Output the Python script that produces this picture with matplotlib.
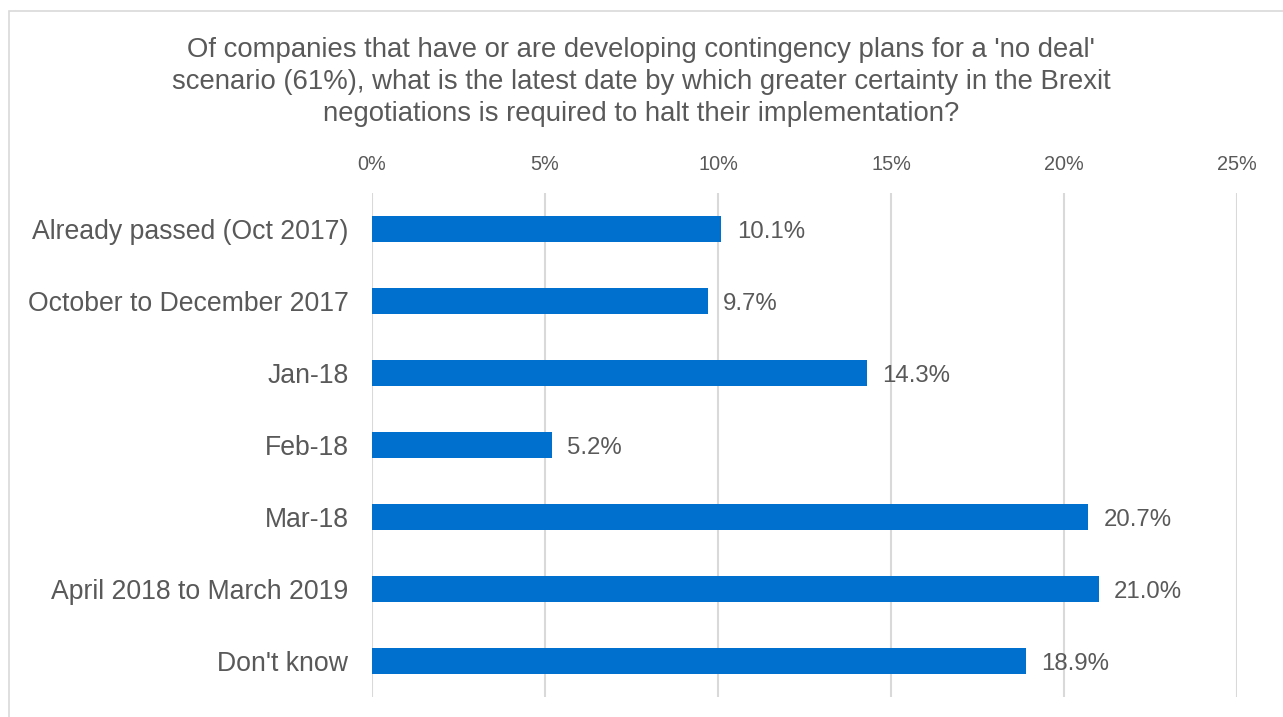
import matplotlib
matplotlib.use("Agg")
import matplotlib.pyplot as plt
from matplotlib.patches import Rectangle
from matplotlib.ticker import FuncFormatter

plt.rcParams["font.family"] = ["Liberation Sans", "DejaVu Sans"]

# survey answers, top to bottom
categories = [
    "Already passed (Oct 2017)",
    "October to December 2017",
    "Jan-18",
    "Feb-18",
    "Mar-18",
    "April 2018 to March 2019",
    "Don't know",
]
shares = [10.1, 9.7, 14.3, 5.2, 20.7, 21.0, 18.9]
x_ticks = [0, 5, 10, 15, 20, 25]

title = ("Of companies that have or are developing contingency plans for a 'no deal'\n"
         "scenario (61%), what is the latest date by which greater certainty in the Brexit\n"
         "negotiations is required to halt their implementation?")

TEXT = "#595959"
BAR = "#0070CE"
GRID = "#D9D9D9"

fig = plt.figure(figsize=(12.83, 7.17), dpi=100)
ax = fig.add_axes([372 / 1283, 1 - 697 / 717, (1237 - 372) / 1283, (697 - 193) / 717])

ypos = list(range(len(categories)))
ax.barh(ypos, shares, height=0.35, color=BAR, zorder=3)
for y, v in zip(ypos, shares):
    ax.text(v + 0.45, y, f"{v:.1f}%", va="center_baseline", ha="left",
            fontsize=17.3, color=TEXT)

ax.set_xlim(0, 25)
ax.set_ylim(len(categories) - 0.5, -0.5)
ax.set_xticks(x_ticks)
ax.xaxis.set_major_formatter(FuncFormatter(lambda v, _: f"{v:.0f}%"))
ax.xaxis.tick_top()
ax.tick_params(axis="x", length=0, pad=14, labelsize=14.3, labelcolor=TEXT)
ax.set_yticks(ypos)
ax.set_yticklabels(categories)
ax.tick_params(axis="y", length=0, pad=17, labelsize=19.2, labelcolor=TEXT)
ax.grid(axis="x", color=GRID, linewidth=1.5, zorder=0)
for s in ax.spines.values():
    s.set_visible(False)

fig.text(641 / 1283, 1 - 82 / 717, title, ha="center", va="center",
         fontsize=19.8, color=TEXT, linespacing=1.32)

# outer chart frame
fig.patches.append(Rectangle((9 / 1283, -0.1), 1.2, 1 - 11 / 717 + 0.1,
                             transform=fig.transFigure, fill=False,
                             edgecolor="#D9D9D9", linewidth=1.2))

fig.savefig("out.png", dpi=100)
